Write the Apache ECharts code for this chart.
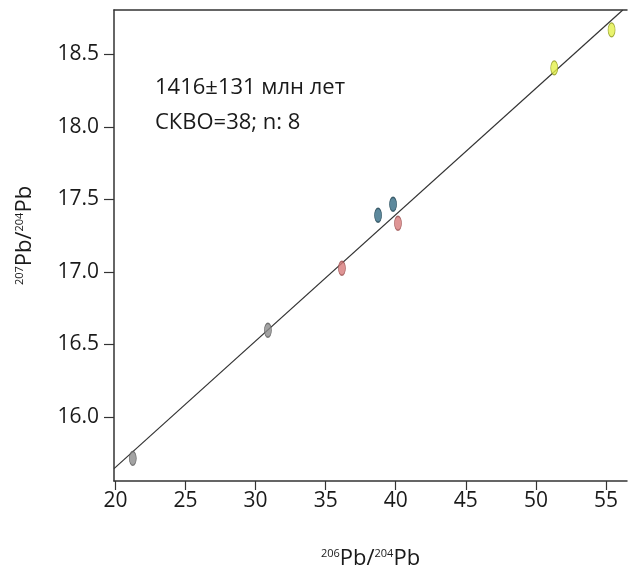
<!DOCTYPE html>
<html>
<head>
<meta charset="utf-8">
<script src="https://cdn.jsdelivr.net/npm/echarts@6/dist/echarts.min.js"></script>
<style>
  html, body { margin: 0; padding: 0; background: #fff; }
  #chart { width: 635px; height: 571px; }
</style>
</head>
<body>
<div id="chart"></div>
<script>
// 206Pb/204Pb vs 207Pb/204Pb, одна проба на эллипс
const pb206 = [21.24, 30.88, 36.16, 38.74, 39.81, 40.16, 51.31, 55.4];
const pb207 = [15.715, 16.598, 17.025, 17.39, 17.466, 17.335, 18.406, 18.668];
const groups = ["gray", "gray", "pink", "blue", "blue", "pink", "yellow", "yellow"];

// изохрона (концы линии)
const isoX = [19.9, 56.2];
const isoY = [15.644, 18.805];

const xTicks = [20, 25, 30, 35, 40, 45, 50, 55];
const yTicks = [16.0, 16.5, 17.0, 17.5, 18.0, 18.5];

const fill = { gray: "#8c8c8c", pink: "#d77b7b", blue: "#356b84", yellow: "#e4f04a" };
const edge = { gray: "#5a5a5a", pink: "#9a5050", blue: "#1f4352", yellow: "#8f9a1c" };

const font = "'Open Sans', sans-serif";
const axisColor = "#333";
const textColor = "#1a1a1a";

const points = pb206.map((x, i) => ({
  value: [x, pb207[i]],
  itemStyle: { color: fill[groups[i]], borderColor: edge[groups[i]], borderWidth: 1 }
}));

const nameRich = {
  sup: { fontSize: 11, fontFamily: font, color: textColor, verticalAlign: "top", padding: [0, 0, 9, 0] },
  b: { fontSize: 22, fontFamily: font, color: textColor }
};

const chart = echarts.init(document.getElementById("chart"));
chart.setOption({
  animation: false,
  grid: { left: 114, top: 10, right: 8, bottom: 90, outerBoundsMode: "none", containLabel: false },
  xAxis: [{
    type: "value",
    min: 19.9,
    max: 56.5,
    name: "{sup|206}{b|Pb/}{sup|204}{b|Pb}",
    nameLocation: "middle",
    nameGap: 67,
    nameTextStyle: { rich: nameRich },
    axisLine: { show: true, lineStyle: { color: axisColor, width: 1.5 } },
    axisTick: { show: true, length: 9, customValues: xTicks, lineStyle: { color: axisColor, width: 1.2 } },
    axisLabel: { customValues: xTicks, fontSize: 21, fontFamily: font, color: textColor, margin: 10 },
    splitLine: { show: false }
  }, {
    type: "value",
    position: "top",
    min: 19.9,
    max: 56.5,
    axisLine: { show: true, lineStyle: { color: axisColor, width: 1.5 } },
    axisTick: { show: false },
    axisLabel: { show: false },
    splitLine: { show: false }
  }],
  yAxis: {
    type: "value",
    min: 15.559,
    max: 18.805,
    name: "{sup|207}{b|Pb/}{sup|204}{b|Pb}",
    nameLocation: "middle",
    nameRotate: 90,
    nameGap: 78,
    nameTextStyle: { rich: nameRich, padding: [0, 0, 0, 20] },
    axisLine: { show: true, lineStyle: { color: axisColor, width: 1.5 } },
    axisTick: { show: true, length: 10, customValues: yTicks, lineStyle: { color: axisColor, width: 1.2 } },
    axisLabel: {
      customValues: yTicks, fontSize: 21, fontFamily: font, color: textColor, margin: 15,
      formatter: v => v.toFixed(1)
    },
    splitLine: { show: false }
  },
  graphic: [{
    type: "text",
    left: 155,
    top: 70,
    style: {
      text: "1416±131 млн лет\nСКВО=38; n: 8",
      font: "22px " + font,
      fill: textColor,
      lineHeight: 35
    }
  }],
  series: [{
    type: "line",
    data: isoX.map((x, i) => [x, isoY[i]]),
    symbol: "none",
    lineStyle: { color: "#333", width: 1.2 },
    z: 2
  }, {
    type: "scatter",
    data: points,
    symbol: "circle",
    symbolSize: [7, 14],
    z: 3
  }]
});
</script>
</body>
</html>
